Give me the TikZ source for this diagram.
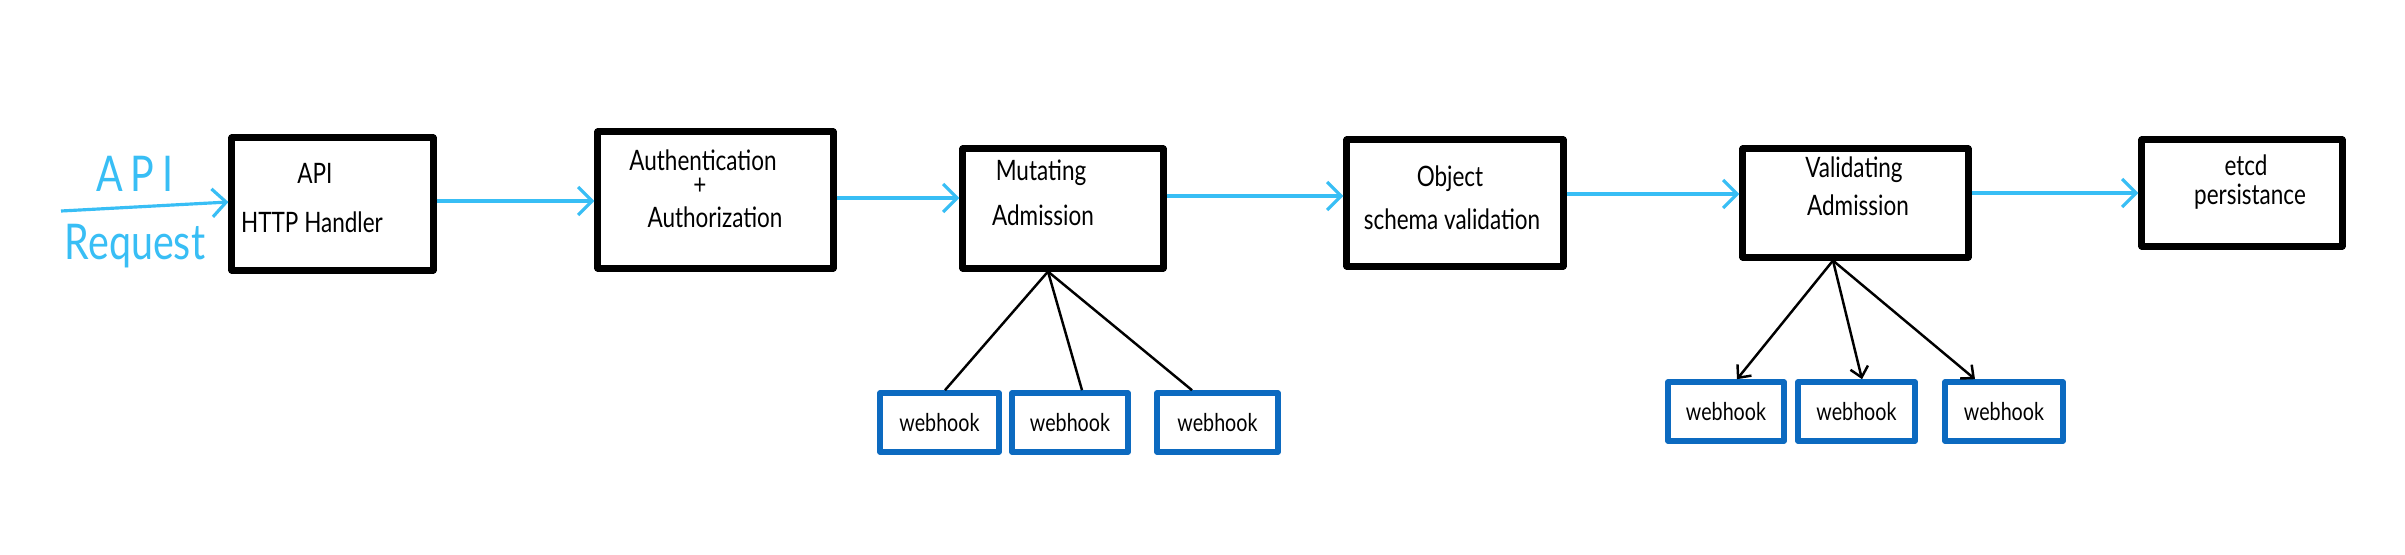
\documentclass[tikz,border=0pt]{standalone}
\usepackage{fontspec}
\setmainfont[FakeStretch=0.8]{Lato}
\usetikzlibrary{arrows.meta}
\definecolor{flow}{RGB}{56,190,245}
\definecolor{hook}{RGB}{12,106,192}
\begin{document}
\begin{tikzpicture}[x=0.01cm,y=-0.01cm,
  stage/.style={draw=black, line width=2pt, line join=round, fill=white, inner sep=0},
  hookbox/.style={draw=hook, line width=1.6pt, line join=round, fill=white, inner sep=0,
    minimum height=0.59cm, font=\fontsize{7}{8}\selectfont},
  lbl/.style={font=\fontsize{8}{9}\selectfont, inner sep=0},
  reqlbl/.style={font=\fontsize{14}{16}\selectfont, text=flow, inner sep=0},
  flowarrow/.style={draw=flow, line width=0.9pt, -{Straight Barb[length=1.4mm,width=2.8mm]}},
  tie/.style={draw=black, line width=0.7pt},
  hookarrow/.style={tie, -{Straight Barb[length=1mm,width=1.8mm]}}]

\useasboundingbox[fill=white] (0,0) rectangle (2405,554);

% stages
\node[stage, minimum width=2.01cm, minimum height=1.32cm] (b1) at (332.5,204) {};
\node[stage, minimum width=2.35cm, minimum height=1.36cm] (b2) at (715.5,200) {};
\node[stage, minimum width=2.00cm, minimum height=1.19cm] (b3) at (1063,208.5) {};
\node[stage, minimum width=2.16cm, minimum height=1.26cm] (b4) at (1455,203) {};
\node[stage, minimum width=2.25cm, minimum height=1.08cm] (b5) at (1855.5,203) {};
\node[stage, minimum width=2.00cm, minimum height=1.06cm] (b6) at (2242,193) {};

% stage texts
\node[lbl] (t1a) at (315,173) {API};
\node[lbl] (t1b) at (312,222) {HTTP Handler};
\node[lbl] (t2a) at (703,160) {Authentication};
\node[lbl] (t2b) at (700,186) {+};
\node[lbl] (t2c) at (715,217) {Authorization};
\node[lbl] (t3a) at (1041,173) {Mutating};
\node[lbl] (t3b) at (1043,215) {Admission};
\node[lbl] (t4a) at (1450,179) {Object};
\node[lbl] (t4b) at (1452,219) {schema validation};
\node[lbl] (t5a) at (1854,170) {Validating};
\node[lbl] (t5b) at (1858,205) {Admission};
\node[lbl] (t6a) at (2246,165) {etcd};
\node[lbl] (t6b) at (2250,197) {persistance};

% request
\node[reqlbl] (r1) at (135,174) {\addfontfeature{LetterSpace=15}API};
\node[reqlbl] (r2) at (135,246) {Request};
\coordinate (src) at (61,211);

% webhooks
\node[hookbox, minimum width=1.19cm] (m1) at (939.5,422.5) {webhook};
\node[hookbox, minimum width=1.16cm] (m2) at (1070,422.5) {webhook};
\node[hookbox, minimum width=1.21cm] (m3) at (1217.5,422.5) {webhook};
\node[hookbox, minimum width=1.16cm] (v1) at (1726,411.5) {webhook};
\node[hookbox, minimum width=1.17cm] (v2) at (1856.5,411.5) {webhook};
\node[hookbox, minimum width=1.18cm] (v3) at (2004,411.5) {webhook};

% flow arrows
\draw[flowarrow] (src) -- ([yshift=0.02cm]b1.west);
\draw[flowarrow] (b1.east |- 0,201) -- (b2.west |- 0,201);
\draw[flowarrow] (b2.east |- 0,198) -- (b3.west |- 0,198);
\draw[flowarrow] (b3.east |- 0,196) -- (b4.west |- 0,196);
\draw[flowarrow] (b4.east |- 0,194) -- (b5.west |- 0,194);
\draw[flowarrow] (b5.east |- 0,193) -- (b6.west |- 0,193);

% mutating webhooks
\coordinate (mj) at ([xshift=-0.15cm]b3.south);
\draw[tie] (mj) -- ([xshift=0.055cm]m1.north);
\draw[tie] (mj) -- ([xshift=0.12cm]m2.north);
\draw[tie] (mj) -- ([xshift=-0.255cm]m3.north);

% validating webhooks
\coordinate (vj) at ([xshift=-0.225cm]b5.south);
\draw[hookarrow] (vj) -- ([xshift=0.11cm]v1.north);
\draw[hookarrow] (vj) -- ([xshift=0.055cm]v2.north);
\draw[hookarrow] (vj) -- ([xshift=-0.29cm]v3.north);
\end{tikzpicture}
\end{document}
